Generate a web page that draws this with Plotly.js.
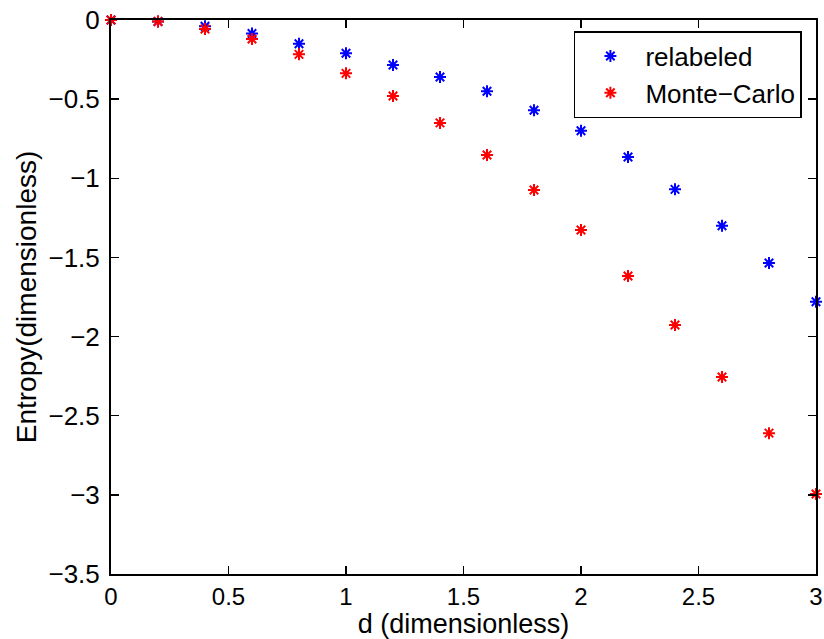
<!DOCTYPE html>
<html>
<head>
<meta charset="utf-8">
<script src="https://cdn.plot.ly/plotly-3.0.1.min.js"></script>
<style>html,body{margin:0;padding:0;background:#fff;}</style>
</head>
<body>
<div id="chart" style="width:824px;height:639px;"></div>
<script>
const d = [0, 0.2, 0.4, 0.6, 0.8, 1.0, 1.2, 1.4, 1.6, 1.8, 2.0, 2.2, 2.4, 2.6, 2.8, 3.0];
const relabeled = [0, -0.01, -0.04, -0.085, -0.15, -0.21, -0.284, -0.36, -0.45, -0.57, -0.70, -0.865, -1.07, -1.30, -1.535, -1.78];
const monteCarlo = [0, -0.01, -0.057, -0.12, -0.217, -0.337, -0.48, -0.65, -0.853, -1.074, -1.327, -1.617, -1.927, -2.255, -2.61, -2.995];
const xTicks = [0, 0.5, 1, 1.5, 2, 2.5, 3];
const yTicks = [0, -0.5, -1, -1.5, -2, -2.5, -3, -3.5];

const font = {family: 'Liberation Sans, Arial, Helvetica, sans-serif', color: '#000'};
const mk = (c) => ({symbol: 'asterisk-open', size: 10, color: c, line: {color: c, width: 2}});

const traces = [
  {x: d, y: relabeled, name: 'relabeled', mode: 'markers', type: 'scatter', marker: mk('rgb(0,0,255)'), cliponaxis: false},
  {x: d, y: monteCarlo, name: 'Monte\u2212Carlo', mode: 'markers', type: 'scatter', marker: mk('rgb(255,0,0)'), cliponaxis: false}
];

const axisBase = {
  showgrid: false, zeroline: false, showline: true, linecolor: '#000', linewidth: 2,
  mirror: 'ticks', ticks: 'inside', ticklen: 8, tickwidth: 1.5, tickcolor: '#000',
  tickfont: Object.assign({size: 26}, font)
};

const layout = {
  width: 824, height: 639,
  margin: {l: 111, r: 8, t: 20, b: 65},
  paper_bgcolor: '#fff', plot_bgcolor: '#fff',
  font: font,
  showlegend: true,
  xaxis: Object.assign({}, axisBase, {
    range: [0, 3], tickvals: xTicks, ticktext: xTicks.map(String),
    tickfont: Object.assign({size: 24}, font),
    title: {text: 'd (dimensionless)', font: Object.assign({size: 27}, font), standoff: 2}
  }),
  yaxis: Object.assign({}, axisBase, {
    range: [-3.5, 0], tickvals: yTicks, ticktext: yTicks.map(v => v < 0 ? '\u2212' + String(-v) : String(v)),
    ticklabelstandoff: 4,
    title: {text: 'Entropy(dimensionless)', font: Object.assign({size: 28}, font), standoff: 4}
  }),
  legend: {
    x: 0.98, xanchor: 'right', y: 0.98, yanchor: 'top',
    bgcolor: '#fff', bordercolor: '#000', borderwidth: 1.5,
    font: Object.assign({size: 26}, font), itemwidth: 60, tracegroupgap: 0
  }
};

Plotly.newPlot('chart', traces, layout, {displayModeBar: false, staticPlot: true});
</script>
</body>
</html>
